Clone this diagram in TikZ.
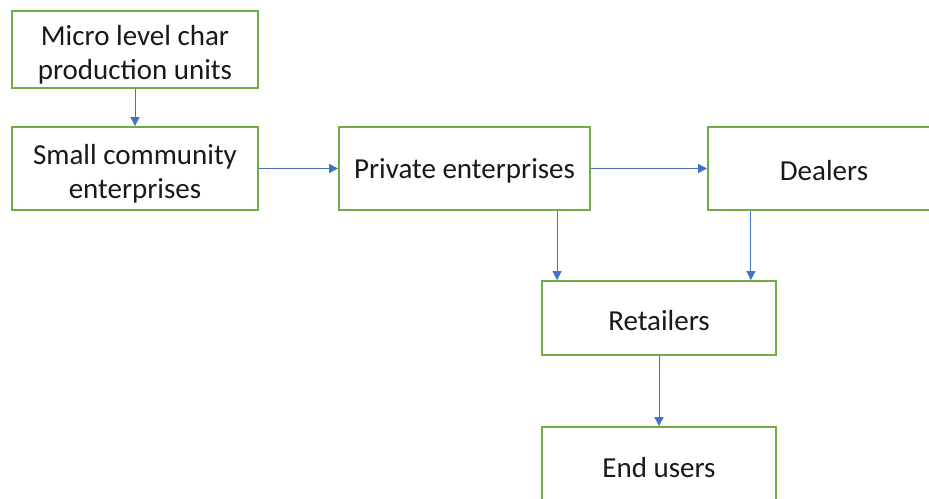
\documentclass[tikz,border=0pt]{standalone}
\usepackage{fontspec}
\setmainfont{Carlito}
\usetikzlibrary{arrows.meta}
\definecolor{boxgreen}{RGB}{112,173,71}
\definecolor{flowblue}{RGB}{68,114,196}
% invisible strut that lowers the first line of a label
\newcommand\capstrut[1]{\rule{0pt}{#1}}
\tikzset{
  stage/.style={draw=boxgreen, line width=1.8pt, fill=white, rectangle,
    align=center, inner sep=0pt, font=\fontsize{29}{34}\selectfont, text=black!90},
  flow/.style={draw=flowblue, line width=0.9pt, -{Triangle[length=9pt,width=9pt]}}
}
\begin{document}
\begin{tikzpicture}[x=1pt,y=-1pt]
  \useasboundingbox (0,0) rectangle (929,498);
  \clip (0,0) rectangle (929,498);
  \fill[white] (0,0) rectangle (929,498);

  \node[stage, minimum width=246pt, minimum height=77pt] (micro) at (135,49.5)
    {\capstrut{30pt}Micro level char\\production units};
  \node[stage, minimum width=246pt, minimum height=83pt] (small) at (135,168.5)
    {\capstrut{30pt}Small community\\enterprises};
  \node[stage, minimum width=251pt, minimum height=83pt] (private) at (464.5,168.5)
    {\capstrut{25pt}Private enterprises};
  \node[stage, minimum width=232pt, minimum height=83pt] (dealers) at (824,168.5)
    {\capstrut{25pt}Dealers};
  \node[stage, minimum width=234pt, minimum height=74pt] (retail) at (659,318)
    {\capstrut{25pt}Retailers};
  \node[stage, minimum width=234pt, minimum height=76pt] (end) at (659,465)
    {\capstrut{25pt}End users};

  \draw[flow] (micro.south) -- (small.north);
  \draw[flow] (small.east) -- (private.west);
  \draw[flow] (private.east) -- (dealers.west);
  \draw[flow] ([xshift=16pt]retail.north west |- private.south) -- ([xshift=16pt]retail.north west);
  \draw[flow] ([xshift=-26pt]retail.north east |- dealers.south) -- ([xshift=-26pt]retail.north east);
  \draw[flow] (retail.south) -- (end.north);
\end{tikzpicture}
\end{document}
